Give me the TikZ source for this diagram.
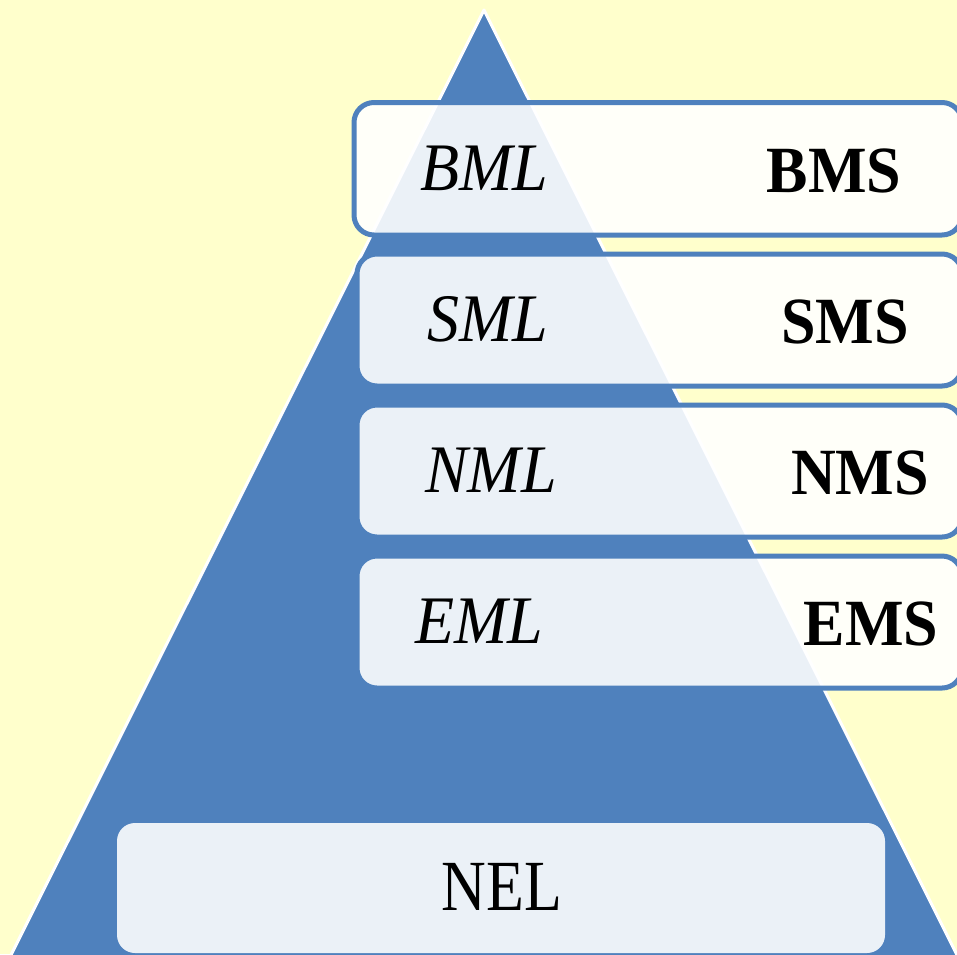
\documentclass[tikz,border=0pt]{standalone}
\usepackage{fontspec}
\usepackage{graphicx}
\setmainfont{Liberation Serif}
\definecolor{bgyellow}{HTML}{FFFFCC}
\definecolor{triblue}{HTML}{4F81BD}
\tikzset{
  layerbox/.style={rectangle, rounded corners=20pt, draw=triblue, line width=5pt,
    fill=white, fill opacity=0.89, inner sep=0pt, outer sep=0pt},
  basebox/.style={rectangle, rounded corners=18pt, fill=white, fill opacity=0.89,
    inner sep=0pt, outer sep=0pt},
  leftlbl/.style={anchor=base, inner sep=0pt, font=\fontsize{68}{70}\selectfont\itshape},
  rightlbl/.style={anchor=base, inner sep=0pt, font=\fontsize{66}{68}\selectfont\bfseries},
  baselbl/.style={anchor=base, inner sep=0pt, font=\fontsize{72}{74}\selectfont}
}
\begin{document}
\begin{tikzpicture}[x=1pt, y=-1pt]
\useasboundingbox (0,0) rectangle (957,954);
\fill[bgyellow] (0,0) rectangle (957,954);
% pyramid
\coordinate (apex) at (484,10);
\coordinate (bl) at (8.5,960);
\coordinate (br) at (959.5,960);
\filldraw[fill=triblue, draw=white, line width=3pt, line join=round] (apex) -- (bl) -- (br) -- cycle;
% layer boxes
\node[layerbox, minimum width=608pt, minimum height=132.5pt] (bmlbox) at (658,168.75) {};
\node[layerbox, minimum width=605pt, minimum height=132pt] (smlbox) at (659.5,320) {};
\node[layerbox, minimum width=605pt, minimum height=132pt] (nmlbox) at (659.5,471) {};
\node[layerbox, minimum width=605pt, minimum height=132pt] (emlbox) at (659.5,622) {};
\node[basebox, minimum width=768pt, minimum height=130pt] (nelbox) at (501,888) {};
% labels
\node[leftlbl] (bml) at (484,190) {\scalebox{0.94}[1]{BML}};
\node[leftlbl] (sml) at (488,341) {\scalebox{0.94}[1]{SML}};
\node[leftlbl] (nml) at (491,492) {\scalebox{0.94}[1]{NML}};
\node[leftlbl] (eml) at (479,643) {\scalebox{0.94}[1]{EML}};
\node[rightlbl] (bms) at (834,192) {\scalebox{0.94}[1]{BMS}};
\node[rightlbl] (sms) at (845,343) {\scalebox{0.94}[1]{SMS}};
\node[rightlbl] (nms) at (860,494) {\scalebox{0.94}[1]{NMS}};
\node[rightlbl] (ems) at (871,645) {\scalebox{0.94}[1]{EMS}};
\node[baselbl] (nel) at (502,910) {\scalebox{0.86}[1]{NEL}};
\end{tikzpicture}
\end{document}
